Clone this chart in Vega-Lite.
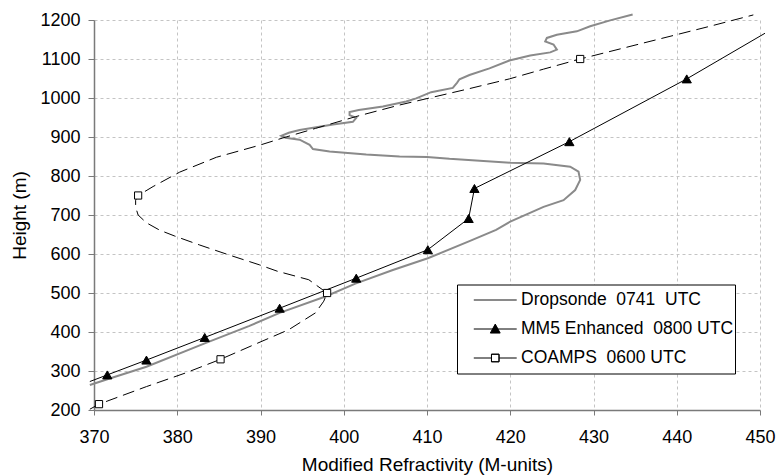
{
  "$schema": "https://vega.github.io/schema/vega-lite/v6.json",
  "width": 666,
  "height": 390,
  "autosize": "none",
  "padding": {"left": 94, "top": 20, "right": 17, "bottom": 66},
  "background": "white",
  "datasets": {
    "curves": [
      {"series": "Dropsonde", "seq": 1, "x": 369.5, "y": 264},
      {"series": "Dropsonde", "seq": 2, "x": 371.6, "y": 279},
      {"series": "Dropsonde", "seq": 3, "x": 376.3, "y": 311},
      {"series": "Dropsonde", "seq": 4, "x": 383.3, "y": 371},
      {"series": "Dropsonde", "seq": 5, "x": 388.6, "y": 415},
      {"series": "Dropsonde", "seq": 6, "x": 392.3, "y": 449},
      {"series": "Dropsonde", "seq": 7, "x": 397.8, "y": 491},
      {"series": "Dropsonde", "seq": 8, "x": 401.4, "y": 524},
      {"series": "Dropsonde", "seq": 9, "x": 405.9, "y": 559},
      {"series": "Dropsonde", "seq": 10, "x": 410.1, "y": 589},
      {"series": "Dropsonde", "seq": 11, "x": 415.1, "y": 633},
      {"series": "Dropsonde", "seq": 12, "x": 418.3, "y": 662},
      {"series": "Dropsonde", "seq": 13, "x": 420.0, "y": 683},
      {"series": "Dropsonde", "seq": 14, "x": 424.0, "y": 721},
      {"series": "Dropsonde", "seq": 15, "x": 426.4, "y": 738},
      {"series": "Dropsonde", "seq": 16, "x": 427.8, "y": 764},
      {"series": "Dropsonde", "seq": 17, "x": 428.4, "y": 790},
      {"series": "Dropsonde", "seq": 18, "x": 428.2, "y": 811},
      {"series": "Dropsonde", "seq": 19, "x": 427.2, "y": 824},
      {"series": "Dropsonde", "seq": 20, "x": 424.0, "y": 832},
      {"series": "Dropsonde", "seq": 21, "x": 420.0, "y": 834},
      {"series": "Dropsonde", "seq": 22, "x": 412.7, "y": 844},
      {"series": "Dropsonde", "seq": 23, "x": 410.0, "y": 849},
      {"series": "Dropsonde", "seq": 24, "x": 406.7, "y": 850},
      {"series": "Dropsonde", "seq": 25, "x": 402.7, "y": 855},
      {"series": "Dropsonde", "seq": 26, "x": 398.3, "y": 863},
      {"series": "Dropsonde", "seq": 27, "x": 396.3, "y": 869},
      {"series": "Dropsonde", "seq": 28, "x": 395.9, "y": 880},
      {"series": "Dropsonde", "seq": 29, "x": 394.7, "y": 893},
      {"series": "Dropsonde", "seq": 30, "x": 393.0, "y": 898},
      {"series": "Dropsonde", "seq": 31, "x": 392.5, "y": 903},
      {"series": "Dropsonde", "seq": 32, "x": 393.4, "y": 911},
      {"series": "Dropsonde", "seq": 33, "x": 394.7, "y": 918},
      {"series": "Dropsonde", "seq": 34, "x": 398.7, "y": 932},
      {"series": "Dropsonde", "seq": 35, "x": 401.1, "y": 939},
      {"series": "Dropsonde", "seq": 36, "x": 401.5, "y": 949},
      {"series": "Dropsonde", "seq": 37, "x": 400.7, "y": 956},
      {"series": "Dropsonde", "seq": 38, "x": 400.7, "y": 964},
      {"series": "Dropsonde", "seq": 39, "x": 401.8, "y": 969},
      {"series": "Dropsonde", "seq": 40, "x": 404.7, "y": 978},
      {"series": "Dropsonde", "seq": 41, "x": 407.5, "y": 991},
      {"series": "Dropsonde", "seq": 42, "x": 408.7, "y": 999},
      {"series": "Dropsonde", "seq": 43, "x": 410.5, "y": 1015},
      {"series": "Dropsonde", "seq": 44, "x": 413.1, "y": 1026},
      {"series": "Dropsonde", "seq": 45, "x": 413.6, "y": 1039},
      {"series": "Dropsonde", "seq": 46, "x": 413.9, "y": 1048},
      {"series": "Dropsonde", "seq": 47, "x": 415.1, "y": 1059},
      {"series": "Dropsonde", "seq": 48, "x": 417.5, "y": 1076},
      {"series": "Dropsonde", "seq": 49, "x": 419.9, "y": 1096},
      {"series": "Dropsonde", "seq": 50, "x": 422.4, "y": 1109},
      {"series": "Dropsonde", "seq": 51, "x": 424.8, "y": 1117},
      {"series": "Dropsonde", "seq": 52, "x": 425.6, "y": 1124},
      {"series": "Dropsonde", "seq": 53, "x": 425.2, "y": 1137},
      {"series": "Dropsonde", "seq": 54, "x": 424.2, "y": 1145},
      {"series": "Dropsonde", "seq": 55, "x": 424.4, "y": 1154},
      {"series": "Dropsonde", "seq": 56, "x": 425.6, "y": 1162},
      {"series": "Dropsonde", "seq": 57, "x": 428.0, "y": 1171},
      {"series": "Dropsonde", "seq": 58, "x": 429.6, "y": 1184},
      {"series": "Dropsonde", "seq": 59, "x": 432.0, "y": 1199},
      {"series": "Dropsonde", "seq": 60, "x": 434.7, "y": 1214},
      {"series": "MM5 Enhanced", "seq": 1, "x": 369.5, "y": 273},
      {"series": "MM5 Enhanced", "seq": 2, "x": 371.6, "y": 290},
      {"series": "MM5 Enhanced", "seq": 3, "x": 376.3, "y": 328},
      {"series": "MM5 Enhanced", "seq": 4, "x": 383.3, "y": 386},
      {"series": "MM5 Enhanced", "seq": 5, "x": 392.3, "y": 461},
      {"series": "MM5 Enhanced", "seq": 6, "x": 401.5, "y": 538},
      {"series": "MM5 Enhanced", "seq": 7, "x": 410.1, "y": 611},
      {"series": "MM5 Enhanced", "seq": 8, "x": 415.0, "y": 691},
      {"series": "MM5 Enhanced", "seq": 9, "x": 415.7, "y": 768},
      {"series": "MM5 Enhanced", "seq": 10, "x": 427.1, "y": 888},
      {"series": "MM5 Enhanced", "seq": 11, "x": 441.2, "y": 1049},
      {"series": "MM5 Enhanced", "seq": 12, "x": 450.6, "y": 1166},
      {"series": "COAMPS", "seq": 1, "x": 369.5, "y": 202},
      {"series": "COAMPS", "seq": 2, "x": 370.6, "y": 215},
      {"series": "COAMPS", "seq": 3, "x": 376.3, "y": 260},
      {"series": "COAMPS", "seq": 4, "x": 381.0, "y": 295},
      {"series": "COAMPS", "seq": 5, "x": 385.2, "y": 330},
      {"series": "COAMPS", "seq": 6, "x": 389.5, "y": 370},
      {"series": "COAMPS", "seq": 7, "x": 393.4, "y": 406},
      {"series": "COAMPS", "seq": 8, "x": 396.6, "y": 449},
      {"series": "COAMPS", "seq": 9, "x": 397.6, "y": 479},
      {"series": "COAMPS", "seq": 10, "x": 398.0, "y": 500},
      {"series": "COAMPS", "seq": 11, "x": 395.8, "y": 534},
      {"series": "COAMPS", "seq": 12, "x": 392.0, "y": 556},
      {"series": "COAMPS", "seq": 13, "x": 389.9, "y": 572},
      {"series": "COAMPS", "seq": 14, "x": 386.3, "y": 597},
      {"series": "COAMPS", "seq": 15, "x": 382.7, "y": 623},
      {"series": "COAMPS", "seq": 16, "x": 379.7, "y": 646},
      {"series": "COAMPS", "seq": 17, "x": 377.9, "y": 661},
      {"series": "COAMPS", "seq": 18, "x": 376.3, "y": 680},
      {"series": "COAMPS", "seq": 19, "x": 375.3, "y": 700},
      {"series": "COAMPS", "seq": 20, "x": 375.0, "y": 720},
      {"series": "COAMPS", "seq": 21, "x": 375.0, "y": 738},
      {"series": "COAMPS", "seq": 22, "x": 375.3, "y": 750},
      {"series": "COAMPS", "seq": 23, "x": 377.1, "y": 773},
      {"series": "COAMPS", "seq": 24, "x": 380.3, "y": 810},
      {"series": "COAMPS", "seq": 25, "x": 384.7, "y": 848},
      {"series": "COAMPS", "seq": 26, "x": 389.9, "y": 879},
      {"series": "COAMPS", "seq": 27, "x": 392.6, "y": 897},
      {"series": "COAMPS", "seq": 28, "x": 396.6, "y": 922},
      {"series": "COAMPS", "seq": 29, "x": 401.4, "y": 952},
      {"series": "COAMPS", "seq": 30, "x": 406.7, "y": 982},
      {"series": "COAMPS", "seq": 31, "x": 410.5, "y": 1001},
      {"series": "COAMPS", "seq": 32, "x": 414.7, "y": 1022},
      {"series": "COAMPS", "seq": 33, "x": 419.9, "y": 1049},
      {"series": "COAMPS", "seq": 34, "x": 424.0, "y": 1074},
      {"series": "COAMPS", "seq": 35, "x": 428.4, "y": 1100},
      {"series": "COAMPS", "seq": 36, "x": 436.0, "y": 1141},
      {"series": "COAMPS", "seq": 37, "x": 444.0, "y": 1184},
      {"series": "COAMPS", "seq": 38, "x": 449.2, "y": 1213}
    ],
    "markers": [
      {"series": "MM5 Enhanced", "x": 371.6, "y": 290},
      {"series": "MM5 Enhanced", "x": 376.3, "y": 328},
      {"series": "MM5 Enhanced", "x": 383.3, "y": 386},
      {"series": "MM5 Enhanced", "x": 392.3, "y": 461},
      {"series": "MM5 Enhanced", "x": 401.5, "y": 538},
      {"series": "MM5 Enhanced", "x": 410.1, "y": 611},
      {"series": "MM5 Enhanced", "x": 415.0, "y": 691},
      {"series": "MM5 Enhanced", "x": 415.7, "y": 768},
      {"series": "MM5 Enhanced", "x": 427.1, "y": 888},
      {"series": "MM5 Enhanced", "x": 441.2, "y": 1049},
      {"series": "COAMPS", "x": 370.6, "y": 215},
      {"series": "COAMPS", "x": 385.2, "y": 330},
      {"series": "COAMPS", "x": 398.0, "y": 500},
      {"series": "COAMPS", "x": 375.3, "y": 750},
      {"series": "COAMPS", "x": 428.4, "y": 1100}
    ],
    "legendEntries": [
      {"series": "Dropsonde", "x": 400, "y": 700},
      {"series": "MM5 Enhanced", "x": 400, "y": 700},
      {"series": "COAMPS", "x": 400, "y": 700}
    ]
  },
  "encoding": {
    "x": {"field": "x", "type": "quantitative", "scale": {"domain": [370, 450], "nice": false, "zero": false},
      "axis": {"title": "Modified Refractivity (M-units)", "values": [370, 380, 390, 400, 410, 420, 430, 440, 450], "format": "d"}},
    "y": {"field": "y", "type": "quantitative", "scale": {"domain": [200, 1200], "nice": false, "zero": false},
      "axis": {"title": "Height (m)", "values": [200, 300, 400, 500, 600, 700, 800, 900, 1000, 1100, 1200], "format": "d"}}
  },
  "layer": [
    {
      "data": {"name": "curves"},
      "transform": [{"filter": "datum.series == 'Dropsonde'"}],
      "mark": {"type": "line", "color": "#8a8a8a", "strokeWidth": 2},
      "encoding": {"order": {"field": "seq", "type": "quantitative"}}
    },
    {
      "data": {"name": "curves"},
      "transform": [{"filter": "datum.series == 'MM5 Enhanced'"}],
      "mark": {"type": "line", "color": "black", "strokeWidth": 1},
      "encoding": {"order": {"field": "seq", "type": "quantitative"}}
    },
    {
      "data": {"name": "curves"},
      "transform": [{"filter": "datum.series == 'COAMPS'"}],
      "mark": {"type": "line", "color": "black", "strokeWidth": 1, "strokeDash": [12, 6]},
      "encoding": {"order": {"field": "seq", "type": "quantitative"}}
    },
    {
      "data": {"name": "markers"},
      "transform": [{"filter": "datum.series == 'MM5 Enhanced'"}],
      "mark": {"type": "point", "shape": "triangle-up", "filled": true, "fill": "black", "stroke": "black", "strokeWidth": 1, "size": 85, "opacity": 1}
    },
    {
      "data": {"name": "markers"},
      "transform": [{"filter": "datum.series == 'COAMPS'"}],
      "mark": {"type": "point", "shape": "square", "filled": true, "fill": "white", "stroke": "black", "strokeWidth": 1, "size": 52, "opacity": 1}
    },
    {
      "data": {"name": "legendEntries"},
      "transform": [{"filter": "false"}],
      "mark": {"type": "point", "filled": true, "fill": "black", "opacity": 1},
      "encoding": {
        "shape": {"field": "series", "type": "nominal",
          "scale": {"domain": ["Dropsonde", "MM5 Enhanced", "COAMPS"],
            "range": ["M-0.49,0H0.99", "M-0.49,0H0.99M0.25,-0.17L0.42,0.14L0.08,0.14Z", "M-0.49,0H0.12M0.38,0H0.99M0.12,-0.13H0.38V0.13H0.12ZM0.12,-0.13V0.13H0.38V-0.13Z"]},
          "legend": {"title": null, "orient": "none", "legendX": 363, "legendY": 264.5,
            "labelExpr": "datum.value == 'Dropsonde' ? 'Dropsonde\u00a0 0741\u00a0 UTC\u00a0\u00a0\u00a0' : datum.value == 'MM5 Enhanced' ? 'MM5 Enhanced\u00a0 0800 UTC\u00a0\u00a0\u00a0' : 'COAMPS\u00a0 0600 UTC\u00a0\u00a0\u00a0'"}},
        "stroke": {"field": "series", "type": "nominal",
          "scale": {"domain": ["Dropsonde", "MM5 Enhanced", "COAMPS"], "range": ["#8a8a8a", "black", "black"]},
          "legend": {"title": null, "orient": "none", "legendX": 363, "legendY": 264.5,
            "labelExpr": "datum.value == 'Dropsonde' ? 'Dropsonde\u00a0 0741\u00a0 UTC\u00a0\u00a0\u00a0' : datum.value == 'MM5 Enhanced' ? 'MM5 Enhanced\u00a0 0800 UTC\u00a0\u00a0\u00a0' : 'COAMPS\u00a0 0600 UTC\u00a0\u00a0\u00a0'"}},
        "strokeWidth": {"field": "series", "type": "nominal",
          "scale": {"type": "ordinal", "domain": ["Dropsonde", "MM5 Enhanced", "COAMPS"], "range": [2, 1, 1]},
          "legend": {"title": null, "orient": "none", "legendX": 363, "legendY": 264.5,
            "labelExpr": "datum.value == 'Dropsonde' ? 'Dropsonde\u00a0 0741\u00a0 UTC\u00a0\u00a0\u00a0' : datum.value == 'MM5 Enhanced' ? 'MM5 Enhanced\u00a0 0800 UTC\u00a0\u00a0\u00a0' : 'COAMPS\u00a0 0600 UTC\u00a0\u00a0\u00a0'"}}
      }
    }
  ],
  "config": {
    "font": "Liberation Sans",
    "view": {"stroke": null},
    "axis": {
      "labelFont": "Liberation Sans",
      "titleFont": "Liberation Sans",
      "labelFontSize": 18,
      "titleFontSize": 19,
      "titleFontWeight": "normal",
      "labelColor": "black",
      "titleColor": "black",
      "grid": true,
      "gridColor": "#c4c4c4",
      "gridDash": [3, 3],
      "gridWidth": 1,
      "domainColor": "#7a7a7a",
      "domainWidth": 1.5,
      "tickColor": "#7a7a7a",
      "tickWidth": 1,
      "labelFlush": false,
      "labelOverlap": false
    },
    "axisX": {"tickSize": 5, "labelPadding": 13, "titlePadding": 9},
    "axisY": {"tickSize": 6, "labelPadding": 8, "titlePadding": 10},
    "legend": {
      "strokeColor": "black",
      "fillColor": "white",
      "padding": 1,
      "symbolOffset": 0,
      "labelOffset": 3,
      "clipHeight": 29,
      "rowPadding": 0,
      "symbolSize": 3364,
      "labelFont": "Liberation Sans",
      "labelFontSize": 17.5,
      "labelColor": "black",
      "labelLimit": 400
    }
  }
}
